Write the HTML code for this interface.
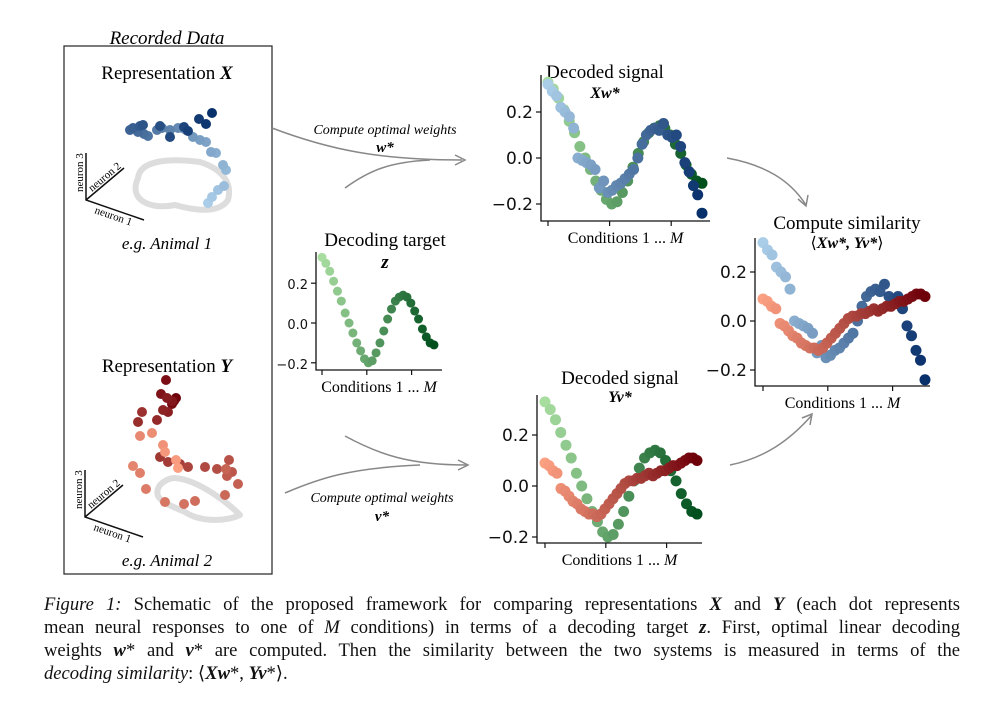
<!DOCTYPE html>
<html><head><meta charset="utf-8"><style>
body{margin:0;background:#fff;width:1000px;height:718px;overflow:hidden;position:relative;font-family:"Liberation Serif",serif}
svg{position:absolute;left:0;top:0}
.cap{position:absolute;left:44px;width:916px;font-size:18.6px;line-height:23px;color:#111}
.cap div{text-align:justify;text-align-last:justify;white-space:nowrap}
.cap div.l{text-align-last:left}
</style></head><body>
<svg id="fig" width="1000" height="718" font-family="Liberation Serif, serif">
<rect x="64" y="46" width="208" height="528" fill="none" stroke="#222" stroke-width="1.2"/>
<text x="167" y="44" font-size="19" font-style="italic" text-anchor="middle">Recorded Data</text>
<text x="167" y="79" font-size="19" text-anchor="middle">Representation <tspan font-weight="bold" font-style="italic">X</tspan></text>
<text x="167" y="249" font-size="17" font-style="italic" text-anchor="middle">e.g. Animal 1</text>
<text x="167" y="372" font-size="19" text-anchor="middle">Representation <tspan font-weight="bold" font-style="italic">Y</tspan></text>
<text x="167" y="566" font-size="17" font-style="italic" text-anchor="middle">e.g. Animal 2</text>
<g id="g3d"></g>
<g id="arrows" fill="none" stroke="#888" stroke-width="1.5">
<path d="M272 128 C330 150 380 160 462 160"/><path d="M345 188 C370 170 390 162 430 160"/>
<path d="M455 155 L465 160 L455 165"/>
<path d="M345 436 C380 455 410 465 467 465"/><path d="M285 493 C320 478 350 468 420 465"/>
<path d="M458 460 L468 465 L458 470"/>
<path d="M727 158 C765 165 790 180 806 205"/><path d="M798 199 L806 206 L808 195"/>
<path d="M730 465 C765 458 790 440 812 415"/><path d="M802 418 L812 414 L810 425"/>
</g>
<text x="385" y="134" font-size="14" font-style="italic" text-anchor="middle">Compute optimal weights</text>
<text x="385" y="152" font-size="15" font-style="italic" font-weight="bold" text-anchor="middle">w*</text>
<text x="382" y="502" font-size="14" font-style="italic" text-anchor="middle">Compute optimal weights</text>
<text x="382" y="521" font-size="15" font-style="italic" font-weight="bold" text-anchor="middle">v*</text>
<text x="385" y="246" font-size="19" text-anchor="middle">Decoding target</text>
<text x="385" y="268" font-size="19" font-weight="bold" font-style="italic" text-anchor="middle">z</text>
<text x="605" y="78" font-size="19" text-anchor="middle">Decoded signal</text>
<text x="605" y="98" font-size="16" font-weight="bold" font-style="italic" text-anchor="middle">Xw*</text>
<text x="620" y="384" font-size="19" text-anchor="middle">Decoded signal</text>
<text x="620" y="402" font-size="16" font-weight="bold" font-style="italic" text-anchor="middle">Yv*</text>
<text x="847" y="229" font-size="19" text-anchor="middle">Compute similarity</text>
<text x="847" y="248" font-size="16" text-anchor="middle">⟨<tspan font-weight="bold" font-style="italic">Xw*, Yv*</tspan>⟩</text>
<g id="plots"></g>
</svg>
<div class="cap" style="top:593px">
<div><i>Figure 1:</i> Schematic of the proposed framework for comparing representations <b><i>X</i></b> and <b><i>Y</i></b> (each dot represents</div>
<div>mean neural responses to one of <i>M</i> conditions) in terms of a decoding target <b><i>z</i></b>. First, optimal linear decoding</div>
<div>weights <b><i>w</i></b>* and <b><i>v</i></b>* are computed. Then the similarity between the two systems is measured in terms of the</div>
<div class="l"><i>decoding similarity</i>: ⟨<b><i>Xw</i></b>*, <b><i>Yv</i></b>*⟩.</div>
</div>
<script>
const zVals=[0.33,0.30,0.26,0.21,0.16,0.11,0.05,0.0,-0.05,-0.10,-0.14,-0.18,-0.20,-0.19,-0.15,-0.10,-0.04,0.02,0.07,0.11,0.13,0.14,0.13,0.10,0.06,0.02,-0.03,-0.07,-0.10,-0.11];
const xwVals=[0.32,0.29,0.27,0.22,0.20,0.18,0.13,0.0,-0.01,-0.02,-0.03,-0.05,-0.13,-0.10,-0.15,-0.14,-0.12,-0.11,-0.09,-0.07,-0.05,0.0,0.06,0.10,0.12,0.13,0.12,0.15,0.10,0.09,0.10,0.05,-0.02,-0.06,-0.12,-0.16,-0.24];
const yvVals=[0.09,0.08,0.06,0.05,-0.01,-0.02,-0.04,-0.06,-0.07,-0.09,-0.10,-0.11,-0.11,-0.12,-0.11,-0.09,-0.07,-0.05,-0.03,-0.01,0.01,0.02,0.02,0.03,0.03,0.04,0.05,0.04,0.05,0.06,0.06,0.07,0.08,0.08,0.09,0.10,0.11,0.11,0.10];
const yTicks=[0.2,0.0,-0.2];
const yTickLabels=["0.2","0.0","\u22120.2"];
const xTickFracs=[0,0.4,0.8];
const NS="http://www.w3.org/2000/svg";
function mk(t,a,p){const e=document.createElementNS(NS,t);for(const k in a)e.setAttribute(k,a[k]);p.appendChild(e);return e;}
function lerpC(c1,c2,t){return "rgb("+c1.map((v,i)=>Math.round(v+(c2[i]-v)*t)).join(",")+")";}
const G1=[168,221,160],G2=[0,80,30],B1=[170,205,232],B2=[8,48,107],R1=[252,160,130],R2=[110,0,10];
const plots=document.getElementById('plots');
function plot(name,P,series){
  const g=mk('g',{},plots);
  
  
  const ys=v=>P.y0-v*P.k;
  const xs=f=>P.x1+f*(P.x2-P.x1);
  series.forEach(s=>{
    s.vals.forEach((v,i)=>{
      const t=i/(s.vals.length-1);
      const c=mk('circle',{cx:xs(t),cy:ys(v),r:P.r,fill:lerpC(s.c1,s.c2,t)},g);
      
      
    });
  });
  const ax=mk('path',{d:`M${P.ax} ${P.top} V${P.bot} H${P.right}`,stroke:'#111','stroke-width':1.3,fill:'none'},g);
  
  
  yTicks.forEach((v,i)=>{
    mk('line',{x1:P.ax-5,x2:P.ax,y1:ys(v),y2:ys(v),stroke:'#111','stroke-width':1.2},g);
    const t=mk('text',{x:P.ax-8,y:ys(v)+6,'font-size':P.fs,'text-anchor':'end','font-family':'DejaVu Sans, sans-serif',fill:'#111'},g);
    t.textContent=yTickLabels[i];
    
    
  });
  xTickFracs.forEach(f=>{mk('line',{x1:xs(f),x2:xs(f),y1:P.bot,y2:P.bot+5,stroke:'#111','stroke-width':1.2},g);});
  const xl=mk('text',{x:(P.ax+P.right)/2,y:P.bot+22,'font-size':16,'text-anchor':'middle'},g);
  xl.innerHTML='Conditions 1 ... <tspan font-style="italic">M</tspan>';
  
  
}
plot('target-plot',{x1:322,x2:434,y0:323,k:199,ax:316,top:252,bot:370,right:442,r:4.5,fs:13},[{name:'z',vals:zVals,c1:G1,c2:G2}]);
plot('decoded-x-plot',{x1:548,x2:702,y0:158,k:230,ax:541,top:75,bot:221,right:710,r:5.5,fs:17},[{name:'z',vals:zVals,c1:G1,c2:G2},{name:'xw',vals:xwVals,c1:B1,c2:B2}]);
plot('decoded-y-plot',{x1:545,x2:697,y0:486,k:255,ax:537,top:395,bot:543,right:702,r:5.5,fs:17},[{name:'z',vals:zVals,c1:G1,c2:G2},{name:'yv',vals:yvVals,c1:R1,c2:R2}]);
plot('similarity-plot',{x1:763,x2:925,y0:321,k:245,ax:755,top:238,bot:386,right:930,r:5.5,fs:17},[{name:'xw',vals:xwVals,c1:B1,c2:B2},{name:'yv',vals:yvVals,c1:R1,c2:R2}]);
const g3=document.getElementById('g3d');
function rep(name,o,loop,pts,c1,c2){
  const g=mk('g',{},g3);
  
  
  mk('path',{d:loop,fill:'none',stroke:'#ddd','stroke-width':6,'stroke-linejoin':'round'},g);
  mk('path',{d:`M${o[0]} ${o[1]-47} L${o[0]} ${o[1]} L${o[0]+58} ${o[1]+20} M${o[0]} ${o[1]} L${o[0]+38} ${o[1]-32}`,stroke:'#111','stroke-width':1.5,fill:'none'},g);
  const t1=mk('text',{x:0,y:0,'font-size':11,transform:`translate(${o[0]-3},${o[1]-8}) rotate(-90)`},g);t1.textContent='neuron 3';
  const t2=mk('text',{x:0,y:0,'font-size':11,transform:`translate(${o[0]+6},${o[1]-8}) rotate(-40)`},g);t2.textContent='neuron 2';
  const t3=mk('text',{x:0,y:0,'font-size':11,transform:`translate(${o[0]+8},${o[1]+13}) rotate(19)`},g);t3.textContent='neuron 1';
  pts.forEach((p,i)=>{const c=mk('circle',{cx:p[0],cy:p[1],r:5,fill:lerpC(c1,c2,i/(pts.length-1))},g);
    
    });
}
const xPts=[[208,203],[212,197],[218,190],[224,186],[226,170],[223,165],[216,153],[211,152],[206,142],[200,140],[193,137],[186,130],[182,128],[178,128],[170,130],[162,128],[157,130],[148,136],[144,134],[138,132],[130,130],[133,128],[140,126],[143,125],[160,126],[170,137],[184,127],[188,131],[199,119],[206,124],[212,113]];
const yPts=[[178,468],[176,460],[165,452],[163,445],[152,433],[140,436],[133,466],[140,473],[146,489],[165,502],[184,504],[195,501],[225,495],[226,469],[238,484],[227,476],[232,472],[229,460],[217,469],[205,467],[188,467],[180,464],[168,462],[160,457],[142,412],[138,422],[157,420],[163,410],[168,412],[167,398],[172,401],[161,394],[166,380],[172,404],[174,401],[176,398]].reverse();
rep('representation-x',[86,200],'M138 178 C140 160 170 158 200 162 C225 170 232 185 228 200 C220 212 200 212 175 205 C150 210 128 200 138 178 Z',xPts,B1,B2);
rep('representation-y',[85,517],'M160 485 C165 480 170 478 175 478 C200 480 230 505 240 515 C225 522 200 522 185 512 C170 505 150 500 160 485 Z',yPts,R2,R1);
</script>
</body></html>
